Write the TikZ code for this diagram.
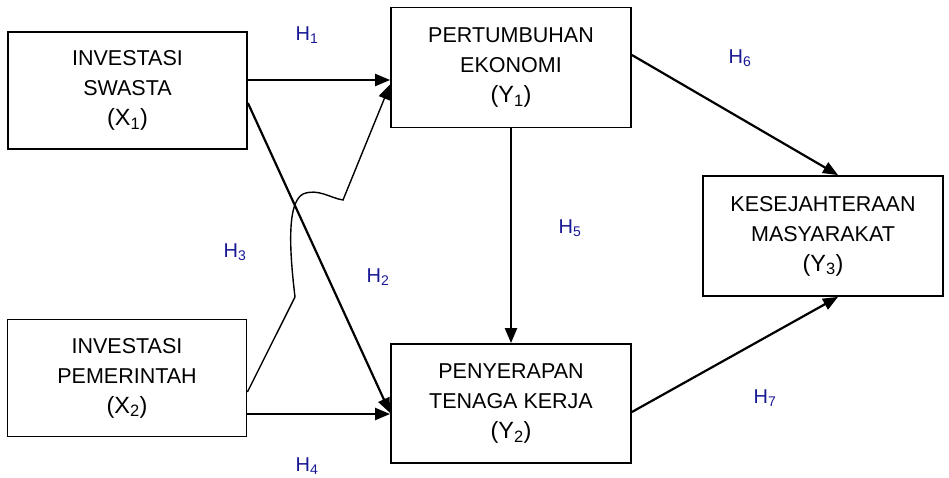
\documentclass[tikz,border=0pt]{standalone}
\usepackage{fontspec}
\setmainfont{Liberation Sans}
\usepackage{tikz}
\usetikzlibrary{arrows.meta}

\definecolor{hbiru}{RGB}{25,25,150}

\begin{document}
\begin{tikzpicture}[x=1pt, y=-1pt,
  kotak/.style={draw, line width=1.8pt, minimum width=239pt, minimum height=117pt, align=center, font=\fontsize{21.5}{30}\selectfont},
  panah/.style={line width=2.2pt, -{Triangle[length=15pt, width=12pt]}},
  hip/.style={text=hbiru, font=\fontsize{20}{22}\selectfont}]
\useasboundingbox (0,0) rectangle (949,478);
% Variabel
\node[kotak] (x1) at (127.5,90.5) {INVESTASI\\SWASTA\\{\fontsize{23.5}{30}\selectfont (X\textsubscript{1})}};
\node[kotak] (x2) at (127,378) {INVESTASI\\PEMERINTAH\\{\fontsize{23.5}{30}\selectfont (X\textsubscript{2})}};
\node[kotak, minimum width=240pt, minimum height=120pt] (y1) at (511,67.5) {PERTUMBUHAN\\EKONOMI\\{\fontsize{23.5}{30}\selectfont (Y\textsubscript{1})}};
\node[kotak, minimum width=240pt, minimum height=119pt] (y2) at (511,403.5) {PENYERAPAN\\TENAGA KERJA\\{\fontsize{23.5}{30}\selectfont (Y\textsubscript{2})}};
\node[kotak, minimum width=240pt, minimum height=120pt] (y3) at (823,236) {KESEJAHTERAAN\\MASYARAKAT\\{\fontsize{23.5}{30}\selectfont (Y\textsubscript{3})}};
% Hubungan
\draw[panah] ([yshift=10.5pt]x1.east) -- ([yshift=10.5pt]x1.east -| y1.west); % H1
\draw[panah] ([yshift=-12.5pt]x1.east) -- ([yshift=-9.5pt]y2.west); % H2
\draw[line width=1.4pt, -{Triangle[length=15pt, width=12pt]}] ([yshift=-14pt]x2.east) -- (295,297)
  .. controls (290,255) and (286,203) .. (303,194)
  .. controls (318,188) and (330,198) .. (343,200) -- ([yshift=-17pt]y1.west); % H3
\draw[panah] ([yshift=-36pt]x2.east) -- ([yshift=-36pt]x2.east -| y2.west); % H4
\draw[panah] (y1.south) -- (y2.north); % H5
\draw[panah] ([yshift=12.5pt]y1.east) -- ([xshift=15pt]y3.north); % H6
\draw[panah] ([yshift=-8.5pt]y2.east) -- ([xshift=15pt]y3.south); % H7
% Label hipotesis
\node[hip] (h1) at (307,35) {H\textsubscript{1}};
\node[hip] (h2) at (378,277) {H\textsubscript{2}};
\node[hip] (h3) at (235,252) {H\textsubscript{3}};
\node[hip] (h4) at (307,466) {H\textsubscript{4}};
\node[hip] (h5) at (570,228) {H\textsubscript{5}};
\node[hip] (h6) at (740,58) {H\textsubscript{6}};
\node[hip] (h7) at (765,398) {H\textsubscript{7}};
\end{tikzpicture}
\end{document}
